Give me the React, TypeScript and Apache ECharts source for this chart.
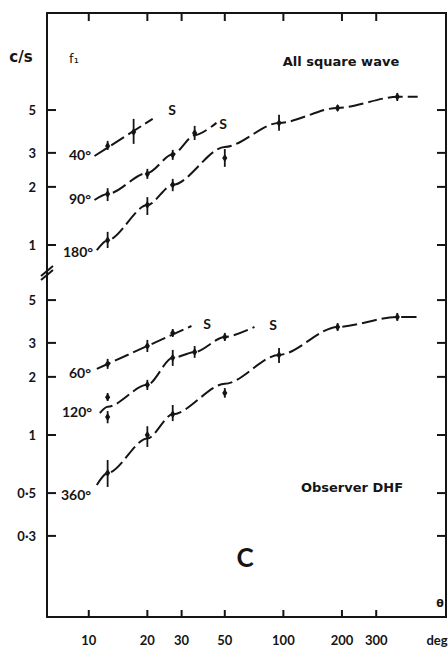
import React, { useEffect, useRef } from 'react';
import * as echarts from 'echarts';

// ---------- data ----------
const X_TICKS = [10, 20, 30, 50, 100, 200, 300];
const Y_TICKS_UPPER = [1, 2, 3, 5];
const Y_TICKS_LOWER = [0.3, 0.5, 1, 2, 3, 5];

// measured points: [deg, f1 (c/s), low, high]
const pts40 = [[12.5, 3.26, 3.11, 3.46], [17, 3.85, 3.34, 4.5]];
const pts90 = [[12.5, 1.84, 1.69, 1.97], [20, 2.33, 2.2, 2.48], [27, 2.93, 2.76, 3.11], [35, 3.8, 3.5, 4.14]];
const pts180 = [[12.5, 1.06, 0.965, 1.17], [20, 1.61, 1.43, 1.77], [27, 2.05, 1.9, 2.2], [50, 2.82, 2.54, 3.14], [95, 4.29, 3.9, 4.72], [190, 5.13, 4.95, 5.31], [385, 5.85, 5.57, 6.13]];
const pts60 = [[12.5, 2.33, 2.2, 2.48], [20, 2.89, 2.69, 3.11], [27, 3.38, 3.22, 3.54]];
const pts120 = [[12.5, 1.57, 1.5, 1.65], [12.5, 1.24, 1.15, 1.33], [20, 1.82, 1.71, 1.93], [27, 2.51, 2.28, 2.76], [35, 2.69, 2.51, 2.89], [50, 3.22, 3.07, 3.38]];
const pts360 = [[12.5, 0.636, 0.538, 0.742], [20, 1.0, 0.867, 1.11], [27, 1.28, 1.18, 1.43], [50, 1.65, 1.56, 1.75], [95, 2.6, 2.36, 2.82], [190, 3.63, 3.46, 3.8], [385, 4.09, 3.9, 4.29]];

// drawn (fitted) curves: [deg, f1]
const curve40 = [[10.7, 2.89], [21.3, 4.5]];
const curve90 = [[10.7, 1.71], [12.5, 1.84], [20, 2.36], [27, 2.95], [35, 3.7], [45.3, 4.29]];
const curve180 = [[11, 0.94], [12.5, 1.06], [20, 1.61], [27, 2.05], [50, 3.22], [95, 4.29], [190, 5.13], [385, 5.85], [490, 5.85]];
const curve60 = [[11, 2.2], [33.7, 3.67]];
const curve120 = [[11.4, 1.3], [12.5, 1.4], [20, 1.82], [27, 2.51], [35, 2.69], [50, 3.22], [71, 3.63]];
const curve360 = [[11, 0.551], [12.5, 0.636], [20, 0.96], [27, 1.28], [50, 1.84], [95, 2.6], [190, 3.63], [385, 4.09], [500, 4.09]];

const X_RANGE = [6.1, 685];
const Y_RANGE_UPPER = [0.725, 15.9];
const Y_RANGE_LOWER = [0.114, 6.99];

// ---------- style ----------
const INK = '#151515';
const FONT = 'Lato';
const WORD_FONT = 'DejaVu Sans';

function fmtY(v: number) {
  const r = Math.round(v * 10) / 10;
  if (r < 1) return '0·' + Math.round(r * 10);
  return String(Math.round(r));
}

function yAxis(gridIndex: number, range: number[], ticks: number[]) {
  return {
    type: 'log',
    gridIndex,
    min: range[0],
    max: range[1],
    position: 'left',
    splitLine: { show: false },
    axisTick: { show: false },
    axisLine: { show: true, lineStyle: { color: INK, width: 2 } },
    axisLabel: {
      show: true,
      customValues: ticks,
      margin: 11,
      color: INK,
      fontFamily: FONT,
      fontWeight: 'bold',
      fontSize: 13,
      formatter: (v: number) => fmtY(v),
    },
  };
}

function seg(x1: number, y1: number, x2: number, y2: number) {
  return { type: 'line', shape: { x1, y1, x2, y2 }, style: { stroke: INK, lineWidth: 2 } };
}

// frame ticks (left/right/top/bottom) and right frame line for one panel.
// Edge positions are found from interior points of the log scales only.
function frameSeries(gi: number, yTicks: number[], yRange: number[], top: boolean) {
  return {
    type: 'custom',
    xAxisIndex: gi,
    yAxisIndex: gi,
    data: [[20, 1]],
    encode: { x: 0, y: 1 },
    renderItem: (params: any, api: any) => {
      const c10 = api.coord([10, 1]);
      const c100 = api.coord([100, 1]);
      const c5 = api.coord([10, 2]);
      const perDecX = c100[0] - c10[0];
      const perDecY = (c5[1] - c10[1]) / Math.log10(2);
      const left = c10[0] - perDecX * Math.log10(10 / X_RANGE[0]);
      const right = c100[0] + perDecX * Math.log10(X_RANGE[1] / 100);
      const yTop = c10[1] + perDecY * Math.log10(yRange[1]);
      const yBot = c10[1] + perDecY * Math.log10(yRange[0]);
      const children: any[] = [];
      yTicks.forEach((v) => {
        const y = api.coord([10, v])[1];
        children.push(seg(left, y, left + 9, y));
        children.push(seg(right - 9, y, right, y));
      });
      X_TICKS.forEach((v) => {
        const x = api.coord([v, 1])[0];
        if (top) children.push(seg(x, yTop, x, yTop + 8));
        else children.push(seg(x, yBot, x, yBot - 7));
      });
      children.push(seg(right, yTop - 1, right, yBot + 1));
      return { type: 'group', children };
    },
  };
}

function errorBars(data: number[][], gi: number) {
  return {
    type: 'custom',
    xAxisIndex: gi,
    yAxisIndex: gi,
    data,
    encode: { x: 0, y: [1, 2, 3] },
    renderItem: (params: any, api: any) => {
      const x = api.value(0);
      const pc = api.coord([x, api.value(1)]);
      const pl = api.coord([x, api.value(2)]);
      const ph = api.coord([x, api.value(3)]);
      return {
        type: 'group',
        children: [
          {
            type: 'line',
            shape: { x1: pl[0], y1: pl[1], x2: ph[0], y2: ph[1] },
            style: { stroke: INK, lineWidth: 1.8 },
          },
          {
            type: 'polygon',
            shape: {
              points: [
                [pc[0], pc[1] - 4],
                [pc[0] + 2.6, pc[1]],
                [pc[0], pc[1] + 4],
                [pc[0] - 2.6, pc[1]],
              ],
            },
            style: { fill: INK },
          },
        ],
      };
    },
  };
}

function curve(data: number[][], gi: number) {
  return {
    type: 'line',
    xAxisIndex: gi,
    yAxisIndex: gi,
    data,
    showSymbol: false,
    symbol: 'none',
    smooth: 0.3,
    smoothMonotone: 'x',
    silent: true,
    lineStyle: { color: INK, width: 2, type: [15, 5] },
  };
}

function txt(text: string, x: number, y: number, size = 13, weight: any = 'bold', family = FONT) {
  return {
    type: 'text',
    x,
    y,
    silent: true,
    style: {
      text,
      fill: INK,
      fontSize: size,
      fontWeight: weight,
      fontFamily: family,
      align: 'center',
      verticalAlign: 'middle',
    },
  };
}

export default function App() {
  const ref = useRef<HTMLDivElement>(null);

  useEffect(() => {
    if (!ref.current) return;
    const chart = echarts.init(ref.current, null, { renderer: 'svg' });
    const xCommon = {
      type: 'log',
      min: X_RANGE[0],
      max: X_RANGE[1],
      splitLine: { show: false },
      axisTick: { show: false },
      axisLine: { show: true, lineStyle: { color: INK, width: 2 } },
    };
    const option: any = {
      animation: false,
      backgroundColor: '#ffffff',
      grid: [
        { left: 47, right: 2, top: 13, height: 259 },
        { left: 47, right: 2, top: 272, height: 345 },
      ],
      xAxis: [
        { ...xCommon, gridIndex: 0, position: 'top', axisLabel: { show: false } },
        {
          ...xCommon,
          gridIndex: 1,
          position: 'bottom',
          axisLabel: {
            show: true,
            customValues: X_TICKS,
            margin: 16,
            color: INK,
            fontFamily: FONT,
            fontWeight: 'bold',
            fontSize: 13,
            formatter: (v: number) => String(Math.round(v)),
          },
        },
      ],
      yAxis: [yAxis(0, Y_RANGE_UPPER, Y_TICKS_UPPER), yAxis(1, Y_RANGE_LOWER, Y_TICKS_LOWER)],
      series: [
        frameSeries(0, Y_TICKS_UPPER, Y_RANGE_UPPER, true),
        frameSeries(1, Y_TICKS_LOWER, Y_RANGE_LOWER, false),
        curve(curve40, 0),
        curve(curve90, 0),
        curve(curve180, 0),
        errorBars(pts40, 0),
        errorBars(pts90, 0),
        errorBars(pts180, 0),
        curve(curve60, 1),
        curve(curve120, 1),
        curve(curve360, 1),
        errorBars(pts60, 1),
        errorBars(pts120, 1),
        errorBars(pts360, 1),
      ],
      graphic: [
        // axis break marks
        { type: 'line', silent: true, shape: { x1: 41, y1: 276, x2: 53, y2: 266 }, style: { stroke: INK, lineWidth: 2 } },
        { type: 'line', silent: true, shape: { x1: 41, y1: 280, x2: 53, y2: 270 }, style: { stroke: INK, lineWidth: 2 } },
        txt('c/s', 21, 57, 15, 'bold', WORD_FONT),
        txt('f₁', 74, 58, 13, 'normal', 'DejaVu Sans'),
        txt('All square wave', 341, 61, 13, 'bold', WORD_FONT),
        txt('Observer DHF', 352, 487, 13, 'bold', WORD_FONT),
        txt('C', 245, 557, 26),
        txt('θ', 440, 603, 11, 'bold', WORD_FONT),
        txt('deg', 437, 640, 13),
        txt('40°', 80, 154, 14),
        txt('90°', 80, 198, 14),
        txt('180°', 78, 251, 14),
        txt('60°', 80, 372, 14),
        txt('120°', 77, 411, 14),
        txt('360°', 76, 494, 14),
        txt('S', 172, 109, 14),
        txt('S', 223, 123, 14),
        txt('S', 207, 323, 14),
        txt('S', 273, 324, 14),
      ],
    };
    chart.setOption(option);
    return () => chart.dispose();
  }, []);

  return (
    <div
      ref={ref}
      style={{ position: 'fixed', left: 0, top: 0, width: 448, height: 650, background: '#fff' }}
    />
  );
}
